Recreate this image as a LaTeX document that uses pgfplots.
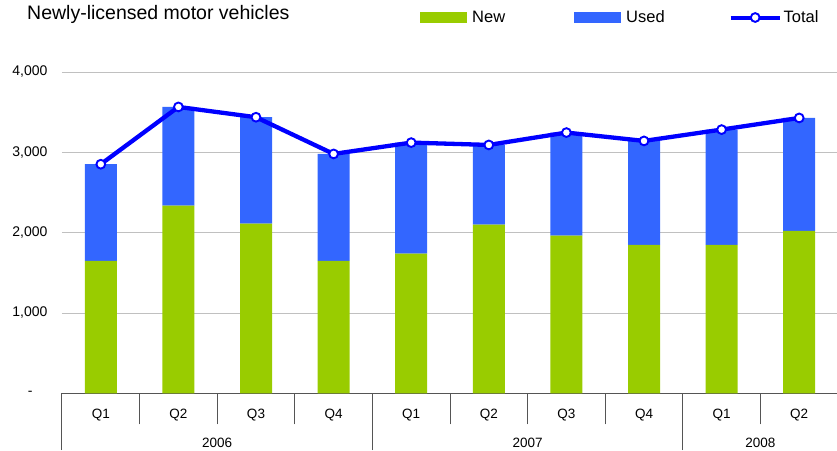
\documentclass[border=0pt]{standalone}
\usepackage{pgfplots}
\pgfplotsset{compat=1.18}
\usepackage{fontspec}
\setmainfont{Liberation Sans}
\definecolor{newc}{HTML}{99CC00}
\definecolor{usedc}{HTML}{3366FF}
\definecolor{totc}{HTML}{0000FF}
\definecolor{gridc}{HTML}{C0C0C0}
\definecolor{axc}{HTML}{555555}
\pgfplotsset{
  totlegend/.style={legend image code/.code={\draw[totc, line width=4pt] (0pt,0pt) -- (49pt,0pt);
    \draw[totc, mark=*, mark size=4.4pt, mark options={fill=white, draw=totc, line width=1.9pt}, only marks] plot coordinates {(24.5pt,0pt)};}},
}
\begin{document}
\begin{tikzpicture}
\useasboundingbox (0,0) rectangle (837pt,450pt);
\node[anchor=base west, inner sep=0pt, font=\fontsize{19.5}{22}\selectfont] at (27pt,430.7pt) {Newly-licensed motor vehicles};
\begin{axis}[
  at={(62pt,56.7pt)}, anchor=south west,
  scale only axis, width=776pt, height=321.3pt,
  xmin=-0.5, xmax=9.5, ymin=0, ymax=4000,
  ybar stacked, bar width=32pt,
  clip=false,
  axis x line*=bottom, axis y line*=left,
  x axis line style={-, draw=axc, line width=1pt},
  y axis line style={draw=none},
  ytick={0,1000,2000,3000,4000},
  yticklabels={{-\kern15pt},{1,000},{2,000},{3,000},{4,000}},
  ymajorgrids, grid style={gridc, line width=0.8pt},
  ytick style={draw=none},
  yticklabel style={anchor=east, inner sep=0pt, xshift=-14.3pt, font=\fontsize{14}{16}\selectfont},
  xtick={0,...,9},
  xticklabels={Q1,Q2,Q3,Q4,Q1,Q2,Q3,Q4,Q1,Q2},
  xticklabel style={anchor=center, yshift=-21.5pt, inner sep=0pt, font=\fontsize{13.5}{16}\selectfont},
  tick align=outside,
  major tick length=0pt,
  minor xtick={0.5,1.5,2.5,4.5,5.5,6.5,8.5},
  minor tick length=31pt,
  minor tick style={draw=axc, line width=1pt},
  extra x ticks={-0.5,3.5,7.5},
  extra x tick labels={},
  extra x tick style={major tick length=56.7pt, tick style={draw=axc, line width=1pt}},
  legend style={at={(axis description cs:0.4613,1.1696)}, anchor=west, draw=none, fill=none,
    inner sep=0pt, legend columns=3, font=\fontsize{16.5}{18}\selectfont,
    nodes={inner xsep=2pt, inner ysep=0pt},
    /tikz/column 2/.style={column sep=67pt},
    /tikz/column 4/.style={column sep=62pt}},
  legend cell align=left,
]
\addplot[fill=newc, draw=none, legend image code/.code={\fill[newc] (0pt,-5.5pt) rectangle (47pt,5.5pt); \path (50pt,0pt);}]
  coordinates {(0,1650) (1,2335) (2,2112) (3,1648) (4,1739) (5,2100) (6,1963) (7,1847) (8,1847) (9,2021)};
\addplot[fill=usedc, draw=none, legend image code/.code={\fill[usedc] (0pt,-5.5pt) rectangle (47pt,5.5pt); \path (50pt,0pt);}]
  coordinates {(0,1202) (1,1230) (2,1325) (3,1332) (4,1382) (5,992) (6,1283) (7,1295) (8,1436) (9,1407)};
\addlegendimage{totlegend}
\legend{New,Used,Total}
\node[font=\fontsize{13.5}{16}\selectfont] at (axis cs:1.5,0) [yshift=-49.7pt] {2006};
\node[font=\fontsize{13.5}{16}\selectfont] at (axis cs:5.5,0) [yshift=-49.7pt] {2007};
\node[font=\fontsize{13.5}{16}\selectfont] at (axis cs:8.5,0) [yshift=-49.7pt] {2008};
\end{axis}
\begin{axis}[
  at={(62pt,56.7pt)}, anchor=south west,
  scale only axis, width=776pt, height=321.3pt,
  xmin=-0.5, xmax=9.5, ymin=0, ymax=4000,
  hide axis, clip=false,
]
\addplot[totc, line width=4.3pt, mark=*, mark size=4.4pt, mark options={fill=white, draw=totc, line width=1.9pt}]
  coordinates {(0,2852) (1,3565) (2,3437) (3,2980) (4,3121) (5,3092) (6,3246) (7,3142) (8,3283) (9,3428)};
\end{axis}
\end{tikzpicture}
\end{document}
